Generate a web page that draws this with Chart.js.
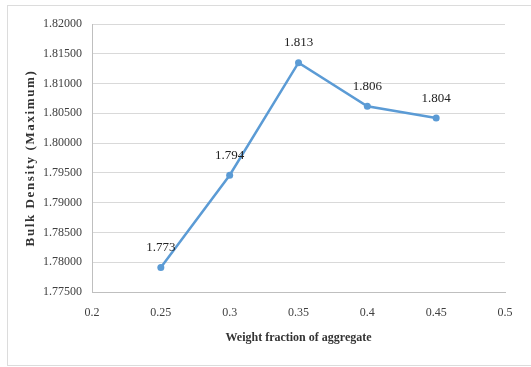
<!DOCTYPE html>
<html>
<head>
<meta charset="utf-8">
<script src="https://cdn.jsdelivr.net/npm/chart.js@4/dist/chart.umd.min.js"></script>
<style>
  html, body { margin: 0; padding: 0; background: #fff; }
  #wrap { width: 531px; height: 367px; position: relative; }
</style>
</head>
<body>
<div id="wrap"><canvas id="chart"></canvas></div>
<script>
// weight fraction of aggregate vs bulk density
const fractions = [0.25, 0.3, 0.35, 0.4, 0.45];
const density = [1.7791, 1.7946, 1.8135, 1.8062, 1.8042];
const pointLabels = ["1.773", "1.794", "1.813", "1.806", "1.804"];

const xMin = 0.2, xMax = 0.5, xStep = 0.05;
const yMin = 1.775, yMax = 1.82, yStep = 0.005;
const yTitle = "Bulk Density (Maximum)";

const lineColor = "#5b9bd5";
const serif = "'Liberation Serif', 'DejaVu Serif', serif";

// labels above each point, spaced-out y title, light frame
const extras = {
  id: "extras",
  beforeDraw(chart) {
    const c = chart.ctx;
    c.save();
    c.fillStyle = "#fff";
    c.fillRect(0, 0, chart.width, chart.height);
    c.strokeStyle = "#dcdcdc";
    c.lineWidth = 1;
    c.strokeRect(7.5, 5.5, chart.width, chart.height - 7);
    c.restore();
  },
  afterDraw(chart) {
    const c = chart.ctx;
    const area = chart.chartArea;
    c.save();
    c.translate(31, (area.top + area.bottom) / 2);
    c.rotate(-Math.PI / 2);
    c.font = "bold 13px " + serif;
    if ("letterSpacing" in c) c.letterSpacing = "1.6px";
    c.fillStyle = "#333";
    c.textAlign = "center";
    c.textBaseline = "middle";
    c.fillText(yTitle, 0, 0);
    c.restore();
  },
  afterDatasetsDraw(chart) {
    const c = chart.ctx;
    const meta = chart.getDatasetMeta(0);
    c.save();
    c.font = "13px " + serif;
    c.fillStyle = "#222";
    c.textAlign = "center";
    c.textBaseline = "middle";
    meta.data.forEach((pt, i) => {
      c.fillText(pointLabels[i], pt.x, pt.y - 20);
    });
    c.restore();
  },
};

const ctx = document.getElementById("chart").getContext("2d");
new Chart(ctx, {
  type: "line",
  data: {
    datasets: [
      {
        data: fractions.map((f, i) => ({ x: f, y: density[i] })),
        borderColor: lineColor,
        backgroundColor: lineColor,
        borderWidth: 2.5,
        pointRadius: 3.5,
        pointBorderWidth: 0,
        fill: false,
        tension: 0,
      },
    ],
  },
  options: {
    responsive: true,
    maintainAspectRatio: false,
    animation: false,
    layout: { padding: { left: 0, top: 24, right: 26, bottom: 0 } },
    plugins: { legend: { display: false }, tooltip: { enabled: false } },
    scales: {
      x: {
        type: "linear",
        min: xMin,
        max: xMax,
        grid: { display: false, drawTicks: false },
        border: { display: true, color: "#bfbfbf" },
        ticks: {
          stepSize: xStep,
          padding: 14,
          color: "#404040",
          font: { family: serif, size: 12 },
          callback: (v) => String(Number(v.toFixed(2))),
        },
        title: {
          display: true,
          text: "Weight fraction of aggregate",
          color: "#333",
          font: { family: serif, size: 12, weight: "bold" },
          padding: { top: 0, bottom: 22 },
        },
        afterFit: (s) => { s.height = 75; },
      },
      y: {
        min: yMin,
        max: yMax,
        grid: { color: "#d9d9d9", drawTicks: false },
        border: { display: true, color: "#bfbfbf" },
        ticks: {
          stepSize: yStep,
          padding: 10,
          color: "#404040",
          font: { family: serif, size: 12 },
          callback: (v) => v.toFixed(5),
        },
        afterFit: (s) => { s.width = 92; },
      },
    },
  },
  plugins: [extras],
});
</script>
</body>
</html>
